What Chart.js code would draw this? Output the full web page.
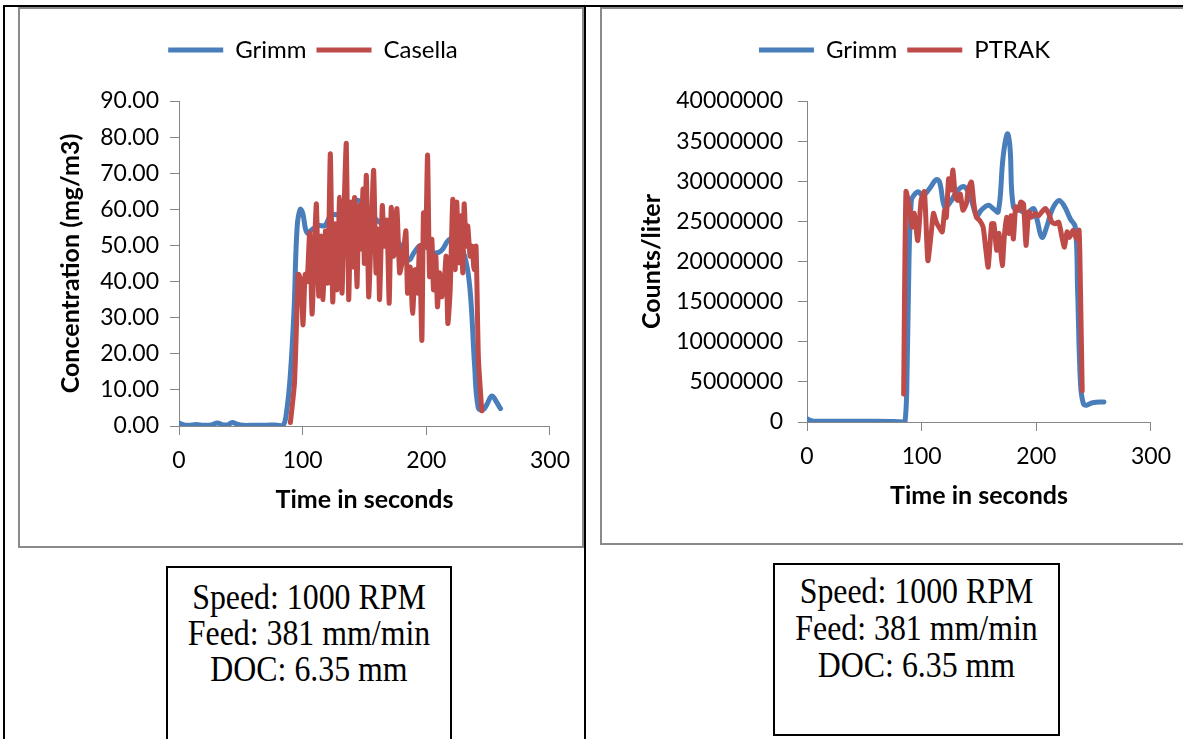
<!DOCTYPE html>
<html>
<head>
<meta charset="utf-8">
<script src="https://cdn.jsdelivr.net/npm/chart.js@4.4.1/dist/chart.umd.min.js"></script>
<style>
  body { margin: 0; width: 1183px; height: 739px; overflow: hidden; background: #fff; position: relative; }
  .rule { position: absolute; background: #000; }
  .frame { position: absolute; border: 2px solid #8a8a8a; box-sizing: border-box; }
  canvas { position: absolute; }
  .note { position: absolute; border: 2px solid #000; box-sizing: border-box; background: #fff;
          font-family: "Liberation Serif", "Times New Roman", serif; font-size: 35px;
          text-align: center; color: #000; }
  .note div { transform: scaleX(0.91); transform-origin: center; }
</style>
</head>
<body>
<div class="rule" style="left:3px;top:5px;width:1180px;height:2px"></div>
<div class="rule" style="left:3px;top:5px;width:2px;height:734px"></div>
<div class="rule" style="left:584px;top:5px;width:2px;height:734px"></div>

<div class="frame" style="left:18px;top:7px;width:566px;height:541px"></div>
<div class="frame" style="left:600px;top:7px;width:600px;height:538px"></div>

<canvas id="conc-chart" width="562" height="537" style="left:20px;top:9px"></canvas>
<canvas id="count-chart" width="581" height="534" style="left:602px;top:9px"></canvas>

<div class="note" style="left:166px;top:566px;width:286px;height:190px;padding-top:12px;line-height:36px">
  <div>Speed: 1000 RPM<br>Feed: 381 mm/min<br>DOC: 6.35 mm</div>
</div>
<div class="note" style="left:773px;top:563px;width:287px;height:173px;padding-top:8px;line-height:37px">
  <div>Speed: 1000 RPM<br>Feed: 381 mm/min<br>DOC: 6.35 mm</div>
</div>

<script>
// Mass concentration run (mg/m3)
const grimmConcTime = [0, 4, 8, 14, 20, 26, 31, 36, 40, 43, 47, 52, 60, 70, 78, 84, 87, 90, 93, 95.5, 98, 100, 103.5, 108, 113, 118, 123, 128, 135, 140, 145, 152, 160, 168, 175, 181, 186, 190, 195, 200, 206, 212, 218, 223, 228, 233, 236, 239, 242, 246, 249, 253, 257, 260];
const grimmConc = [0.8, 0.3, 0.2, 0.4, 0.2, 0.3, 0.8, 0.3, 0.4, 1.0, 0.5, 0.2, 0.2, 0.2, 0.3, 0.1, 4, 14, 32, 55, 60, 59, 53.5, 54.5, 55.5, 55.5, 58.5, 58.5, 59, 61, 62.5, 60, 57, 55, 52, 49, 46, 48, 50, 49.5, 48, 48.5, 51.5, 52, 50, 44, 35, 17, 5, 4.5, 6, 8.3, 6.5, 4.8];

const casellaTime = [90.1, 93.4, 96.3, 96.9, 98.7, 100.3, 102.0, 103.6, 105.7, 107.6, 109.5, 111.1, 113.0, 114.9, 116.5, 118.4, 120.3, 122.4, 124.3, 126.2, 127.8, 129.9, 131.8, 133.4, 135.3, 137.2, 139.1, 140.7, 142.0, 143.9, 145.5, 147.2, 148.8, 149.9, 151.5, 153.4, 155.2, 157.4, 159.3, 160.9, 162.2, 164.4, 166.0, 168.1, 170.0, 171.6, 173.5, 176.2, 178.4, 180.8, 183.5, 184.8, 187.0, 188.9, 191.0, 192.9, 194.5, 196.4, 197.7, 199.4, 201.0, 202.6, 204.5, 205.8, 207.7, 209.0, 210.7, 212.5, 214.4, 216.0, 217.4, 219.3, 221.4, 223.3, 224.6, 226.3, 227.9, 229.5, 230.6, 232.2, 233.5, 235.4, 237.0, 238.6, 240.2, 242.1, 244.8];
const casellaConc = [1, 12, 42, 42, 40, 28, 42, 40, 53.5, 31, 49, 61.5, 36, 52.6, 35, 54, 39.6, 75.4, 34.4, 56, 37.7, 63.3, 36.8, 59, 78.2, 35, 62, 44, 63.3, 38.6, 61, 49, 65.6, 45, 69.4, 35.8, 51.7, 70.8, 42.4, 54.5, 35, 61, 49.8, 57, 34, 60.5, 47, 60.2, 42.4, 46, 54, 36.8, 44, 31.2, 43.3, 36.8, 49.8, 23.7, 59, 49.8, 75, 41.4, 51.7, 37.7, 47, 33, 42.4, 35.8, 39.6, 47, 28.4, 37.7, 62.8, 43.3, 62, 45.2, 58.2, 42.4, 61.5, 49.8, 55.4, 47, 49.8, 43.3, 49.8, 19, 4.2];

// Number concentration run (counts/liter)
const grimmCountTime = [0, 3, 6, 15, 30, 45, 60, 75, 84, 85.5, 87, 89, 91, 93, 97, 101, 107, 112.7, 115.6, 120, 124, 131.7, 137.5, 143.4, 148, 152, 158, 162.4, 166.8, 171, 174.7, 177, 180, 185.8, 191.7, 197.5, 200.5, 204.9, 209, 213.6, 219.5, 224, 229.7, 234, 236, 238.5, 241, 244, 249, 259];
const grimmCount = [400000, 200000, 100000, 100000, 100000, 100000, 100000, 50000, 0, 0, 4000000, 20500000, 27600000, 28200000, 28700000, 28200000, 29100000, 30200000, 29900000, 26800000, 27200000, 28900000, 29300000, 27600000, 25700000, 26400000, 27000000, 26600000, 26200000, 33000000, 35900000, 34300000, 26800000, 26400000, 26000000, 26600000, 25300000, 23000000, 24300000, 26400000, 27600000, 27000000, 25300000, 24300000, 16400000, 4800000, 2300000, 2100000, 2400000, 2500000];

const ptrakTime = [84.3, 86.3, 89.3, 91.6, 93.6, 96.6, 99.5, 102.4, 105.4, 108.3, 110.3, 112.7, 115, 118, 120, 121.5, 123.5, 125.3, 127.3, 129.4, 131.7, 133.7, 136, 139, 140.5, 143.4, 145.5, 147.8, 150.7, 153.6, 156, 158, 161, 163, 165.4, 167.4, 170.3, 172, 174, 176.2, 178, 180, 182, 184.4, 186.4, 188.8, 191, 193.4, 196, 199, 202, 204.9, 207.8, 210.7, 213.6, 216.6, 219.5, 222.4, 224.5, 226.8, 229, 232, 235, 237.3, 238.5, 240];
const ptrakCount = [3500000, 28700000, 26800000, 24300000, 26000000, 22600000, 27600000, 28700000, 20100000, 23500000, 26000000, 24900000, 24300000, 23700000, 26400000, 25500000, 30300000, 28900000, 31400000, 28000000, 27600000, 28400000, 26400000, 27200000, 28900000, 29900000, 27200000, 25500000, 25100000, 24300000, 21400000, 19300000, 24700000, 24700000, 21400000, 23500000, 19500000, 23000000, 25500000, 23500000, 25700000, 22800000, 26800000, 26400000, 27400000, 27200000, 22000000, 26200000, 25500000, 26000000, 25700000, 26200000, 26600000, 26000000, 24900000, 24700000, 24900000, 23000000, 21800000, 23700000, 23000000, 23900000, 22800000, 23900000, 16400000, 3900000];

const BLUE = '#4a7ebb';
const RED = '#be4b48';
const AXIS = '#868686';
const FONT = 'Lato, "Open Sans", sans-serif';

function toPoints(xs, ys) {
    return xs.map((x, i) => ({ x: x, y: ys[i] }));
}

// pushes the plot area down below the legend
function legendGap(gap) {
    return {
        id: 'legendGap',
        beforeInit(chart) {
            const fit = chart.legend.fit;
            chart.legend.fit = function () {
                fit.call(this);
                this.height += gap;
            };
        }
    };
}

// order: lower value is painted on top
function series(label, xs, ys, color, tension, order) {
    return {
        label: label,
        data: toPoints(xs, ys),
        borderColor: color,
        backgroundColor: color,
        borderWidth: 5,
        borderCapStyle: 'round',
        borderJoinStyle: 'round',
        pointRadius: 0,
        tension: tension,
        order: order
    };
}

function buildChart(id, datasets, opts) {
    const ctx = document.getElementById(id).getContext('2d');
    return new Chart(ctx, {
        type: 'line',
        data: { datasets: datasets },
        options: {
            responsive: false,
            animation: false,
            devicePixelRatio: 1,
            layout: { padding: opts.padding },
            plugins: {
                legend: {
                    position: 'top',
                    labels: {
                        usePointStyle: true,
                        pointStyle: 'line',
                        pointStyleWidth: 55,
                        color: '#000',
                        padding: 10,
                        font: { family: FONT, size: 24 },
                        sort: (a, b) => a.datasetIndex - b.datasetIndex
                    }
                },
                tooltip: { enabled: false }
            },
            scales: {
                x: {
                    type: 'linear',
                    min: 0,
                    max: 300,
                    ticks: { stepSize: 100, color: '#000', padding: 12, font: { family: FONT, size: 23 } },
                    grid: { drawOnChartArea: false, tickLength: 9, color: AXIS },
                    border: { color: AXIS },
                    title: {
                        display: true,
                        text: 'Time in seconds',
                        color: '#000',
                        padding: { top: 0, bottom: 0 },
                        font: { family: FONT, size: 25, weight: 'bold' }
                    },
                    afterFit(scale) { scale.height = 89; }
                },
                y: {
                    min: 0,
                    max: opts.yMax,
                    ticks: {
                        stepSize: opts.yStep,
                        color: '#000',
                        padding: opts.yPad,
                        font: { family: FONT, size: 23 },
                        callback: opts.yFormat
                    },
                    grid: { drawOnChartArea: false, tickLength: 9, color: AXIS },
                    border: { color: AXIS },
                    title: {
                        display: true,
                        text: opts.yTitle,
                        color: '#000',
                        padding: { top: opts.yTitleShift, bottom: 0 },
                        font: { family: FONT, size: 25, weight: 'bold' }
                    },
                    afterFit(scale) { scale.width = opts.yWidth; }
                }
            }
        },
        plugins: [legendGap(opts.gap)]
    });
}

buildChart('conc-chart', [
    series('Grimm', grimmConcTime, grimmConc, BLUE, 0.4, 1),
    series('Casella', casellaTime, casellaConc, RED, 0.2, 0)
], {
    padding: { top: 19, left: 56, right: 32, bottom: 31 },
    gap: 29,
    yMax: 90,
    yStep: 10,
    yPad: 11,
    yFormat: (v) => v.toFixed(2),
    yTitle: 'Concentration (mg/m3)',
    yTitleShift: -20,
    yWidth: 103
});

buildChart('count-chart', [
    series('Grimm', grimmCountTime, grimmCount, BLUE, 0.4, 1),
    series('PTRAK', ptrakTime, ptrakCount, RED, 0.2, 0)
], {
    padding: { top: 19, left: 50, right: 26, bottom: 32 },
    gap: 29,
    yMax: 40000000,
    yStep: 5000000,
    yPad: 15,
    yFormat: (v) => String(v),
    yTitle: 'Counts/liter',
    yTitleShift: -15,
    yWidth: 155
});
</script>
</body>
</html>
